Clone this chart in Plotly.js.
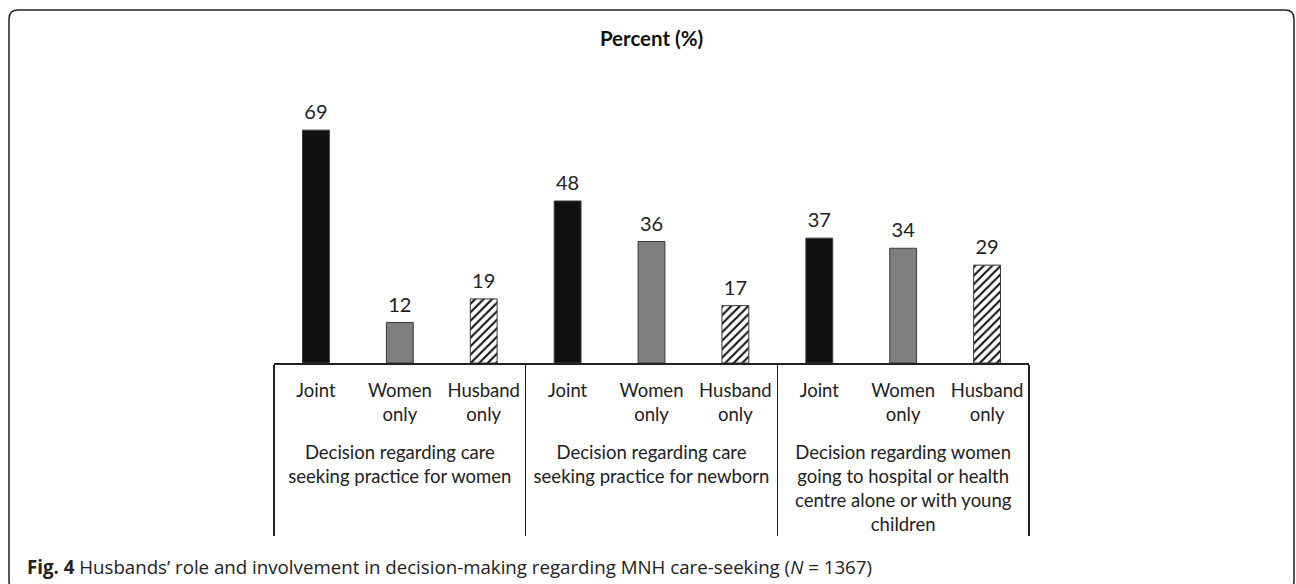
<!DOCTYPE html>
<html>
<head>
<meta charset="utf-8">
<script src="https://cdn.plot.ly/plotly-3.0.1.min.js"></script>
<style>
  html, body { margin: 0; padding: 0; background: #fff; }
  #chart { width: 1296px; height: 584px; }
</style>
</head>
<body>
<div id="chart"></div>
<script>
// ---- data ----
const groups = [
  'Decision regarding care<br>seeking practice for women',
  'Decision regarding care<br>seeking practice for newborn',
  'Decision regarding women<br>going to hospital or health<br>centre alone or with young<br>children'
];
const roles = ['Joint', 'Women<br>only', 'Husband<br>only'];
const joint = [69, 48, 37];
const womenOnly = [12, 36, 34];
const husbandOnly = [19, 17, 29];
const titleText = '<b>Percent (%)</b>';
const captionText = '<b>Fig. 4</b> Husbands’ role and involvement in decision-making regarding MNH care-seeking (<i>N</i> = 1367)';

// ---- build flattened series ----
const series = [joint, womenOnly, husbandOnly];
const fills = ['#111111', '#7f7f7f', '#111111'];
const shapesP = ['', '', '/'];
const xg = [], xr = [], vals = [], cols = [], pats = [];
groups.forEach((g, gi) => {
  roles.forEach((r, ri) => {
    xg.push('<br>' + g); xr.push(r);
    vals.push(series[ri][gi]);
    cols.push(fills[ri]);
    pats.push(shapesP[ri]);
  });
});

// ---- layout geometry (pixels) ----
const W = 1296, H = 584;
const L = 274, R = 1029, T = 93, B = 363;
const px = x => (x - L) / (R - L);
const py = y => (B - y) / (B - T);

const font = 'Lato, "Open Sans", sans-serif';

const barTrace = {
  type: 'bar',
  x: [xg, xr],
  y: vals,
  width: 0.32,
  marker: {
    color: cols,
    line: { color: '#3a3a3a', width: 1 },
    pattern: { shape: pats, bgcolor: '#ffffff', fgcolor: '#111111', size: 6, solidity: 0.35 }
  },
  hoverinfo: 'skip'
};

const labelTrace = {
  type: 'scatter',
  mode: 'markers+text',
  x: [xg, xr],
  y: vals,
  text: vals.map(String),
  textposition: 'top center',
  textfont: { family: font, size: 20, color: '#222' },
  marker: { size: 8, color: 'rgba(0,0,0,0)' },
  hoverinfo: 'skip',
  cliponaxis: false
};

// rounded border
const r = 9, x0 = 9, y0 = 10, x1 = 1294, y1 = 590;
const borderPath =
  `M ${px(x0)} ${py(y1 - r)} L ${px(x0)} ${py(y0 + r)} Q ${px(x0)} ${py(y0)} ${px(x0 + r)} ${py(y0)} ` +
  `L ${px(x1 - r)} ${py(y0)} Q ${px(x1)} ${py(y0)} ${px(x1)} ${py(y0 + r)} L ${px(x1)} ${py(y1 - r)} ` +
  `Q ${px(x1)} ${py(y1)} ${px(x1 - r)} ${py(y1)} L ${px(x0 + r)} ${py(y1)} Q ${px(x0)} ${py(y1)} ${px(x0)} ${py(y1 - r)}`;

const layout = {
  width: W, height: H,
  margin: { l: L, r: W - R, t: T, b: H - B, pad: 0 },
  paper_bgcolor: '#fff', plot_bgcolor: '#fff',
  showlegend: false,
  title: {
    text: titleText,
    font: { family: font, size: 20.5, color: '#111' },
    x: 0.5, xref: 'paper', xanchor: 'center',
    y: 1 - 39 / H, yref: 'container', yanchor: 'middle'
  },
  xaxis: {
    type: 'multicategory',
    range: [-0.5, 8.5],
    showline: true, linecolor: '#222', linewidth: 1.5,
    showdividers: true, dividercolor: '#222', dividerwidth: 1.5,
    ticks: '', ticklabelstandoff: 10,
    showgrid: false,
    tickfont: { family: font, size: 18.5, color: '#222' },
    fixedrange: true
  },
  yaxis: { visible: false, range: [0, 80], fixedrange: true },
  shapes: [{
    type: 'path', xref: 'paper', yref: 'paper', path: borderPath,
    line: { color: '#222', width: 1.5 }, layer: 'above'
  }],
  annotations: [{
    text: captionText, xref: 'paper', yref: 'paper',
    x: px(25), y: py(566), xanchor: 'left', yanchor: 'middle',
    showarrow: false, font: { family: '"Open Sans", sans-serif', size: 18.7, color: '#222' }
  }]
};

Plotly.newPlot('chart', [barTrace, labelTrace], layout, { displayModeBar: false, staticPlot: true });
</script>
</body>
</html>
